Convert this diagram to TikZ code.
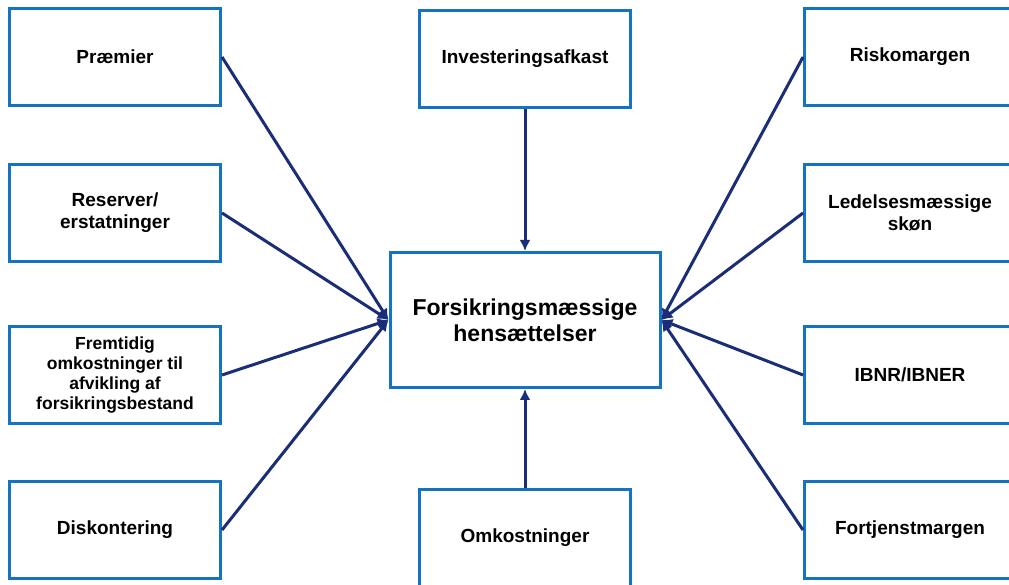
\documentclass[tikz,border=0pt]{standalone}
\usepackage{fontspec}
\setmainfont{Liberation Sans}
\usepackage{tikz}
\usetikzlibrary{shapes,arrows.meta}
\definecolor{boxblue}{RGB}{20,115,195}
\definecolor{linenavy}{RGB}{25,45,120}
\tikzstyle{block} = [rectangle, draw=boxblue, line width=3pt, fill=white, minimum width=211pt, minimum height=97pt, align=center, font=\fontsize{19}{22}\selectfont\bfseries]
\tikzstyle{small} = [font=\fontsize{17.5}{20}\selectfont\bfseries]
\tikzstyle{main} = [minimum width=270pt, minimum height=135pt, font=\fontsize{23}{26}\selectfont\bfseries]
\tikzstyle{line} = [draw=linenavy, line width=3pt, -{Latex[length=11pt,width=11pt]}]

\begin{document}
\begin{tikzpicture}[x=1pt, y=1pt]
    \useasboundingbox (0,0) rectangle (1009,584);
    \clip (0,0) rectangle (1009,584);
    % Place nodes
    \node [block, main] (hens) at (525,264) {Forsikringsmæssige\\hensættelser};
    \node [block] (praemier) at (115,527) {Præmier};
    \node [block] (reserver) at (115,371) {Reserver/\\erstatninger};
    \node [block, small] (fremtid) at (115,209) {Fremtidig\\omkostninger til\\afvikling af\\forsikringsbestand};
    \node [block] (diskont) at (115,54) {Diskontering};
    \node [block] (invest) at (525,525) {Investeringsafkast};
    \node [block] (omkost) at (525,46) {Omkostninger};
    \node [block] (risko) at (910,527) {Riskomargen};
    \node [block] (ledelse) at (910,371) {Ledelsesmæssige\\skøn};
    \node [block] (ibnr) at (910,209) {IBNR/IBNER};
    \node [block] (fortjen) at (910,54) {Fortjenstmargen};
    % Draw edges
    \path [line] (praemier.east) -- (hens.west);
    \path [line] (reserver.east) -- (hens.west);
    \path [line] (fremtid.east) -- (hens.west);
    \path [line] (diskont.east) -- (hens.west);
    \path [line] (risko.west) -- (hens.east);
    \path [line] (ledelse.west) -- (hens.east);
    \path [line] (ibnr.west) -- (hens.east);
    \path [line] (fortjen.west) -- (hens.east);
    \path [line] (invest.south) -- (hens.north);
    \path [line] (omkost.north) -- (hens.south);
\end{tikzpicture}
\end{document}
